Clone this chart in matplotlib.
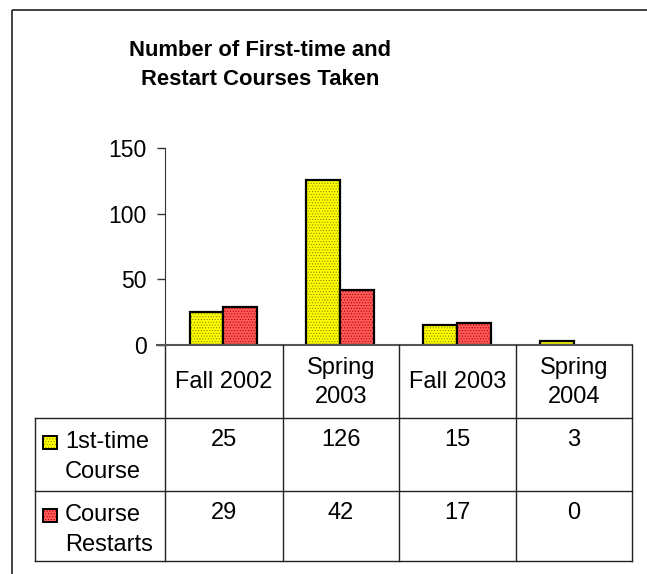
import numpy as np
import matplotlib
matplotlib.use('Agg')
import matplotlib.pyplot as plt
from matplotlib.patches import Rectangle

plt.rcParams['font.family'] = ['Liberation Sans', 'DejaVu Sans']
plt.rcParams['hatch.linewidth'] = 0.5

# datos
semestres = ['Fall 2002', 'Spring\n2003', 'Fall 2003', 'Spring\n2004']
primera   = [25, 126, 15, 3]
reinicios = [29, 42, 17, 0]
series    = ['1st-time\nCourse', 'Course\nRestarts']
colores   = ['#FFFF00', '#FF5A5A']
tramas    = ['#8a8a00', '#b00000']
titulo    = 'Number of First-time and\nRestart Courses Taken'
yticks    = [0, 50, 100, 150]

W, H = 647, 574
fig = plt.figure(figsize=(W/100, H/100), dpi=100)

def fx(x): return x / W
def fy(y): return 1 - y / H

# ejes del grafico (pixeles medidos en la referencia)
x0, x1, ytop, ybot = 165, 632, 148, 345
ax = fig.add_axes([fx(x0), fy(ybot), fx(x1) - fx(x0), fy(ytop) - fy(ybot)])

pos = np.arange(len(semestres))
w = 0.29
for vals, off, c, hc in [(primera, -w/2, colores[0], tramas[0]),
                         (reinicios, w/2, colores[1], tramas[1])]:
    for p, v in zip(pos, vals):
        if v == 0:
            continue
        ax.bar(p + off, v, w, color=c, edgecolor=hc, hatch='......', lw=0)
        ax.bar(p + off, v, w, fill=False, edgecolor='black', lw=1.6)

ax.set_xlim(-0.5, len(semestres) - 0.5)
ax.set_ylim(0, 150)
ax.set_yticks(yticks)
ax.tick_params(axis='y', length=6, width=1, labelsize=16.5, pad=7, colors='#333333', labelcolor='black')
ax.set_xticks([])
for s in ['top', 'right']:
    ax.spines[s].set_visible(False)
ax.spines['left'].set_color('#333333')
ax.spines['bottom'].set_color('#555555')
ax.spines['bottom'].set_linewidth(1.5)

# capa superior en pixeles para tabla, titulo y marco
ov = fig.add_axes([0, 0, 1, 1], facecolor='none')
ov.set_xlim(0, W)
ov.set_ylim(H, 0)
ov.axis('off')

# marco exterior
ov.add_patch(Rectangle((12, 10), 700, 620, fill=False, ec='#222222', lw=1.2))

ov.text(260, 65, titulo, ha='center', va='center', fontsize=15.8, fontweight='bold',
        linespacing=1.45)

# tabla
lc = '#222222'
cols = [x0, 283, 399, 516, x1]
filas = [345, 418, 491, 561]
xlab = 35
for y in filas[1:]:
    ov.plot([xlab, x1], [y, y], color=lc, lw=1)
for x in cols:
    ov.plot([x, x], [filas[0], filas[-1]], color=lc, lw=1)
ov.plot([xlab, xlab], [filas[1], filas[-1]], color=lc, lw=1)
ov.plot([x0 - 8, x0], [ybot, ybot], color='#555555', lw=1.5)

fs = 17
for i, s in enumerate(semestres):
    cx = (cols[i] + cols[i + 1]) / 2
    ov.text(cx, (filas[0] + filas[1]) / 2 + 1, s, ha='center', va='center',
            fontsize=fs, linespacing=1.45)

for r, (nombre, vals) in enumerate(zip(series, [primera, reinicios])):
    yf = filas[r + 1]
    ov.add_patch(Rectangle((43, yf + 18), 14, 13, fc=colores[r], ec=tramas[r],
                           hatch='......', lw=0))
    ov.add_patch(Rectangle((43, yf + 18), 14, 13, fill=False, ec='black', lw=1.4))
    ov.text(65, yf + 13, nombre, ha='left', va='top', fontsize=fs, linespacing=1.45)
    for i, v in enumerate(vals):
        cx = (cols[i] + cols[i + 1]) / 2
        ov.text(cx, yf + 11, str(v), ha='center', va='top', fontsize=fs)

fig.savefig('out.png', dpi=100)
